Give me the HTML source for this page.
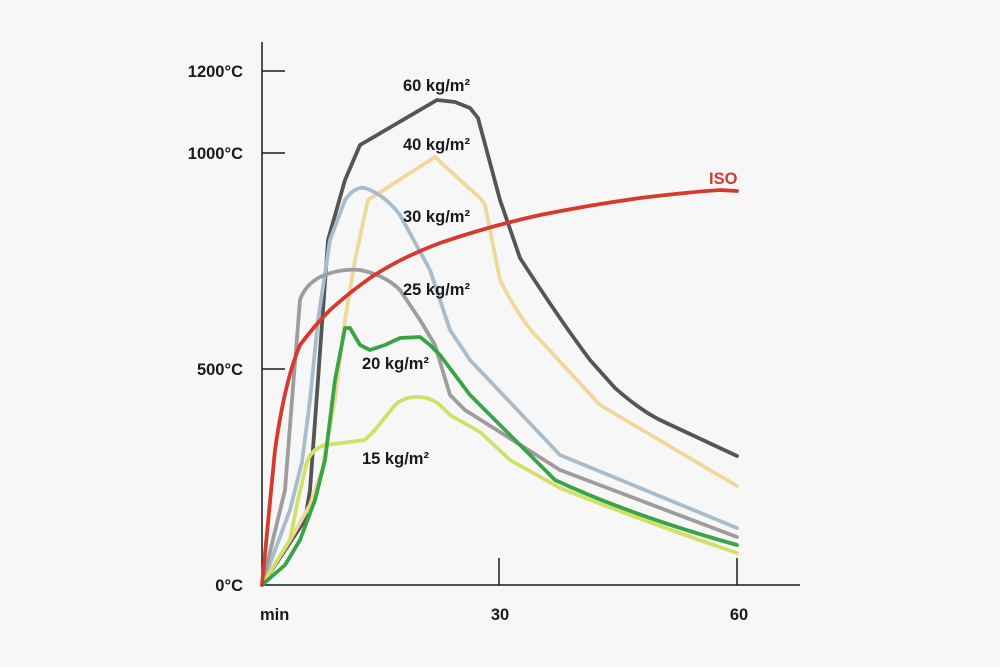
<!DOCTYPE html>
<html><head><style>
html,body{margin:0;padding:0;background:#f7f7f7;}
svg{display:block;}
text{font-family:"Liberation Sans",sans-serif;font-weight:bold;font-size:16.5px;fill:#1a1a1a;}
</style></head><body>
<svg width="1000" height="667" viewBox="0 0 1000 667">
<rect width="1000" height="667" fill="#f7f7f7"/>
<g stroke="#1a1a1a" stroke-width="1.5" fill="none">
<line x1="262" y1="42" x2="262" y2="585"/>
<line x1="262" y1="585" x2="800" y2="585"/>
<line x1="262" y1="71" x2="285" y2="71"/>
<line x1="262" y1="153" x2="285" y2="153"/>
<line x1="262" y1="369" x2="285" y2="369"/>
<line x1="499" y1="558" x2="499" y2="585"/>
<line x1="737" y1="558" x2="737" y2="585"/>
</g>
<text x="243" y="77" text-anchor="end">1200°C</text>
<text x="243" y="159" text-anchor="end">1000°C</text>
<text x="243" y="375" text-anchor="end">500°C</text>
<text x="243" y="591" text-anchor="end">0°C</text>
<text x="260" y="620">min</text>
<text x="500" y="620" text-anchor="middle">30</text>
<text x="739" y="620" text-anchor="middle">60</text>
<g fill="none" stroke-width="3.8" stroke-linejoin="round" stroke-linecap="round">
<path stroke="#555" d="M262,585 L305,520 L310,490 L318,380 L328,240 L345,180 L360,145 L437,100 L455,102 L470,108 L478,118 L500,200 L520,258 Q560,320 590,360 L615,388 Q640,410 660,420 L737,456"/>
<path stroke="#efd99a" d="M262,585 L290,540 L310,505 L322,470 L335,400 L345,320 L355,260 L368,200 L435,157 L460,180 L480,198 L485,205 L500,280 Q520,320 540,340 L600,405 L737,486"/>
<path stroke="#a9bccb" d="M262,585 L290,510 L302,462 L310,400 L318,320 L330,240 L345,200 Q355,186 365,188 Q385,195 400,215 L430,270 L450,330 L470,360 L560,455 L737,528"/>
<path stroke="#a09c9c" d="M262,585 L285,490 L292,400 L300,300 Q305,285 320,277 Q340,268 360,270 Q385,275 400,290 L420,320 L435,345 L450,395 L465,410 L560,470 L737,537"/>
<path stroke="#d2e06a" d="M262,585 L290,540 L298,500 L305,470 Q308,450 325,445 L365,440 L375,430 L395,405 Q405,396 420,397 Q432,398 440,405 L450,415 L480,432 L510,460 L560,488 Q640,520 737,553"/>
<path stroke="#3aa345" d="M262,585 L285,565 L300,540 L315,500 L325,460 L330,420 L335,380 L345,328 L350,328 L360,345 L370,350 L385,345 L400,338 L420,337 L430,345 L440,355 L470,395 L555,480 Q630,515 737,545"/>
<path stroke="#d63a2f" d="M262,585 L275,450 Q285,380 300,345 Q315,325 330,310 Q350,292 370,278 Q400,258 440,243 Q490,226 540,215 Q590,205 640,198 Q690,192 720,190 L737,191"/>
</g>
<text x="403" y="91">60 kg/m²</text>
<text x="403" y="150">40 kg/m²</text>
<text x="403" y="222">30 kg/m²</text>
<text x="403" y="295">25 kg/m²</text>
<text x="362" y="369">20 kg/m²</text>
<text x="362" y="464">15 kg/m²</text>
<text x="709" y="184" style="fill:#d63a2f">ISO</text>
</svg>
</body></html>
